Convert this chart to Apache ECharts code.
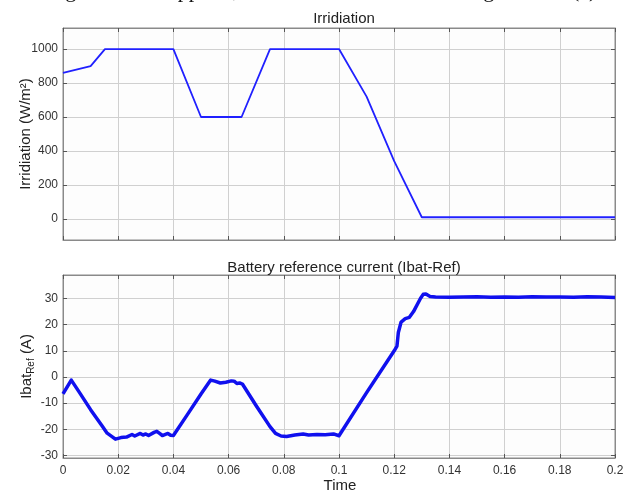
<!DOCTYPE html>
<html><head><meta charset="utf-8">
<script src="https://cdn.jsdelivr.net/npm/echarts@6/dist/echarts.min.js"></script>
<style>html,body{margin:0;padding:0;background:#fff}#c{width:635px;height:491px}</style>
</head><body><div id="c"></div>
<script>
// ---- data ----
const xTicks = [0,0.02,0.04,0.06,0.08,0.1,0.12,0.14,0.16,0.18,0.2];
const irrTicks = [0,200,400,600,800,1000];
const ibatTicks = [-30,-20,-10,0,10,20,30];

const irrTime  = [0, 0.010, 0.0152, 0.040, 0.050, 0.0647, 0.075, 0.100, 0.110, 0.120, 0.130, 0.200];
const irrValue = [860, 900, 1000, 1000, 600, 600, 1000, 1000, 720, 340, 10, 10];

const ibatTime = [0,0.003,0.006,0.010,0.014,0.016,0.018,0.019,0.021,0.023,0.025,0.026,0.028,0.029,0.030,0.031,0.033,0.034,0.035,0.036,0.038,0.039,0.040,
  0.045,0.050,0.0535,0.055,0.057,0.059,0.061,0.062,0.063,0.064,0.065,
  0.070,0.075,0.077,0.079,0.081,0.084,0.087,0.089,0.092,0.095,0.098,0.100,
  0.110,0.120,0.121,0.1215,0.1225,0.124,0.1255,0.127,0.1295,0.1305,0.1315,0.133,0.135,
  0.140,0.145,0.150,0.155,0.160,0.165,0.170,0.175,0.180,0.185,0.190,0.195,0.200];
const ibatValue = [-6.5,-1.2,-6,-12.5,-18.5,-21.5,-23,-23.8,-23.2,-23,-22,-22.6,-21.6,-22.2,-21.8,-22.4,-21.2,-20.8,-21.6,-22.4,-21.6,-22.3,-22.4,
  -14.5,-6.5,-1.2,-1.6,-2.3,-2,-1.5,-1.6,-2.5,-2.3,-2.7,
  -11,-19,-21.6,-22.6,-22.8,-22.2,-21.8,-22.2,-22,-22.1,-21.8,-22.5,
  -6,10,11.8,17,21,22.3,22.8,25,30,31.6,31.7,30.8,30.6,
  30.5,30.6,30.7,30.5,30.6,30.5,30.7,30.6,30.6,30.5,30.7,30.6,30.4];

const irrData = irrTime.map((t,i)=>[t, irrValue[i]]);
const ibatData = ibatTime.map((t,i)=>[t, ibatValue[i]]);

const FONT = 'Liberation Sans';
const labelColor = '#333';
const gridColor = '#d0d0d0';
const frameColor = '#8a8a8a';
const fmtX = v => String(+v.toFixed(2));
const fmtY = v => String(v);

function xAxisCfg(gi, labels, pos) {
  return {
    type:'value', gridIndex:gi, min:0, max:0.2, interval:0.02, position:pos,
    axisLine:{show:true, onZero:false, lineStyle:{color:frameColor, width:1}},
    axisTick:{show:true, inside:true, length:4, lineStyle:{color:'#555'}},
    axisLabel:{show:labels, color:labelColor, fontFamily:FONT, fontSize:12, margin:7, formatter:fmtX},
    splitLine:{show:pos==='bottom', lineStyle:{color:gridColor, width:1}}
  };
}
function yAxisCfg(gi, min, max, ticks, pos, name, nameGap, rich) {
  return {
    type:'value', gridIndex:gi, min:min, max:max, position:pos,
    name: name, nameLocation:'middle', nameGap:nameGap, nameRotate:90, nameMoveOverlap:false,
    nameTextStyle:{color:'#222', fontFamily:FONT, fontSize:15, rich:rich},
    axisLine:{show:true, onZero:false, lineStyle:{color:frameColor, width:1}},
    axisTick:{show:true, inside:true, length:4, customValues:ticks, lineStyle:{color:'#555'}},
    axisLabel:{show:pos==='left', color:labelColor, fontFamily:FONT, fontSize:12, margin:5, customValues:ticks, formatter:fmtY},
    splitLine:{show:pos==='left', lineStyle:{color:gridColor, width:1}}
  };
}

const chart = echarts.init(document.getElementById('c'), null, {renderer:'canvas'});
chart.setOption({
  backgroundColor:'#ffffff',
  animation:false,
  title:[
    {text:'Irridiation', left:339, top:6, textAlign:'center', textStyle:{fontFamily:FONT, fontSize:15, fontWeight:'normal', color:'#222'}},
    {text:'Battery reference current (Ibat-Ref)', left:339, top:255, textAlign:'center', textStyle:{fontFamily:FONT, fontSize:15, fontWeight:'normal', color:'#222'}}
  ],
  graphic:[
    {type:'text', x:47, y:-20, z:100, style:{text:'Figure', font:'22px "Liberation Serif"', fill:'#111'}},
    {type:'text', x:168, y:-20, z:100, style:{text:'applied,', font:'22px "Liberation Serif"', fill:'#111'}},
    {type:'text', x:465, y:-20, z:100, style:{text:'Figure', font:'22px "Liberation Serif"', fill:'#111'}},
    {type:'text', x:572, y:-20, z:100, style:{text:'(c)', font:'22px "Liberation Serif"', fill:'#111'}},
    {type:'text', x:340, y:478, style:{text:'Time', font:'15px "Liberation Sans"', fill:'#222', align:'center'}}
  ],
  grid:[
    {left:63, right:20, top:28, height:212, show:true, backgroundColor:'#fdfdfd', borderColor:frameColor, borderWidth:1},
    {left:63, right:20, top:275, height:183, show:true, backgroundColor:'#fdfdfd', borderColor:frameColor, borderWidth:1}
  ],
  xAxis:[
    xAxisCfg(0,false,'bottom'), xAxisCfg(0,false,'top'),
    xAxisCfg(1,true,'bottom'), xAxisCfg(1,false,'top')
  ],
  yAxis:[
    yAxisCfg(0,-124,1124,irrTicks,'left','Irridiation (W/m²)',30,{}),
    yAxisCfg(0,-124,1124,irrTicks,'right','',0,{}),
    yAxisCfg(1,-31,39,ibatTicks,'left','{n|Ibat}{s|Ref}{n| (A)}',27,{n:{fontFamily:FONT,fontSize:15,color:'#222'}, s:{fontFamily:FONT,fontSize:10,color:'#222',verticalAlign:'bottom',padding:[9,0,0,0]}}),
    yAxisCfg(1,-31,39,ibatTicks,'right','',0,{})
  ],
  series:[
    {type:'line', xAxisIndex:0, yAxisIndex:0, data:irrData, showSymbol:false, lineStyle:{color:'#2020ff', width:1.8}},
    {type:'line', xAxisIndex:2, yAxisIndex:2, data:ibatData, showSymbol:false, lineStyle:{color:'#1010ee', width:3.5, join:'round'}}
  ]
});
</script>
</body></html>
